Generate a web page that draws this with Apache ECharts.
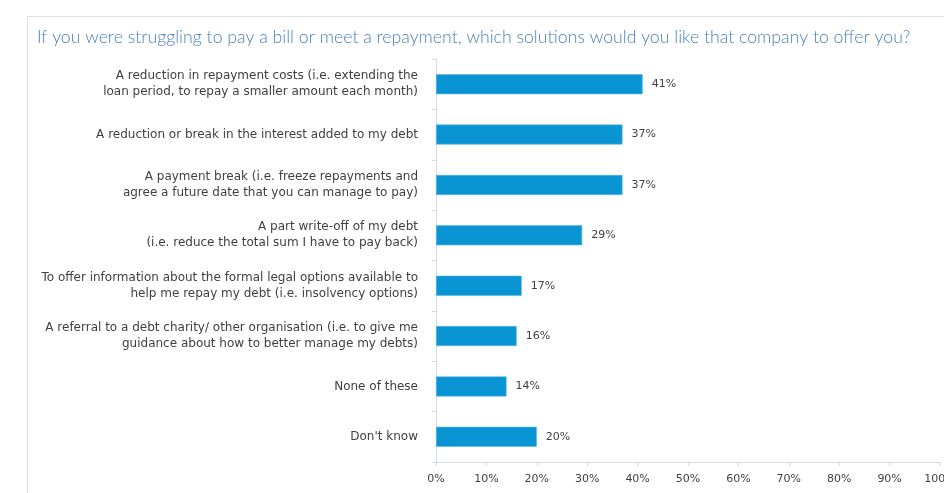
<!DOCTYPE html>
<html>
<head>
<meta charset="utf-8">
<script src="https://cdn.jsdelivr.net/npm/echarts@6/dist/echarts.min.js"></script>
<style>
  html, body { margin: 0; padding: 0; background: #ffffff; }
  #chart { width: 944px; height: 493px; }
</style>
</head>
<body>
<div id="chart"></div>
<script>
// Survey answers, top to bottom
const categories = [
  'A reduction in repayment costs (i.e. extending the\nloan period, to repay a smaller amount each month)',
  'A reduction or break in the interest added to my debt',
  'A payment break (i.e. freeze repayments and\nagree a future date that you can manage to pay)',
  'A part write-off of my debt\n(i.e. reduce the total sum I have to pay back)',
  'To offer information about the formal legal options available to\nhelp me repay my debt (i.e. insolvency options)',
  'A referral to a debt charity/ other organisation (i.e. to give me\nguidance about how to better manage my debts)',
  'None of these',
  "Don't know"
];
// Share of respondents (%)
const shares = [41, 37, 37, 29, 17, 16, 14, 20];
// Value axis ticks (%)
const axisMin = 0;
const axisMax = 100;
const axisStep = 10;

const titleText = 'If you were struggling to pay a bill or meet a repayment, which solutions would you like that company to offer you?';

const labelFont = '"DejaVu Sans", sans-serif';
const axisColor = '#d3dae6';
const textColor = '#3f3f3f';

const chart = echarts.init(document.getElementById('chart'), null, { renderer: 'canvas' });

chart.setOption({
  backgroundColor: '#ffffff',
  animation: false,
  title: {
    text: titleText,
    left: 37,
    top: 28,
    padding: 0,
    textStyle: {
      fontFamily: 'Lato, sans-serif',
      fontWeight: 300,
      fontSize: 17.7,
      color: '#4a7fc0'
    }
  },
  graphic: [
    {
      type: 'rect',
      silent: true,
      z: -1,
      shape: { x: 27.5, y: 16.5, width: 940, height: 500 },
      style: { fill: 'none', stroke: '#dbe2ec', lineWidth: 1 }
    }
  ],
  grid: {
    left: 436,
    right: 4,
    top: 59,
    bottom: 31,
    containLabel: false,
    outerBoundsMode: 'none'
  },
  xAxis: {
    type: 'value',
    min: axisMin,
    max: axisMax,
    interval: axisStep,
    splitLine: { show: false },
    axisLine: { show: true, lineStyle: { color: axisColor, width: 1 } },
    axisTick: { show: true, length: 4, lineStyle: { color: axisColor } },
    axisLabel: {
      formatter: '{value}%',
      color: textColor,
      fontFamily: labelFont,
      fontSize: 11,
      margin: 12,
      hideOverlap: false,
      showMaxLabel: true
    }
  },
  yAxis: {
    type: 'category',
    data: categories,
    inverse: true,
    axisLine: { show: true, lineStyle: { color: axisColor, width: 1 } },
    axisTick: { show: true, length: 4, lineStyle: { color: axisColor } },
    axisLabel: {
      color: textColor,
      fontFamily: labelFont,
      fontSize: 12,
      lineHeight: 16,
      margin: 18,
      padding: [5, 0, 0, 0],
      align: 'right'
    }
  },
  series: [
    {
      type: 'bar',
      data: shares,
      barWidth: 20,
      itemStyle: {
        color: '#0995d3',
        borderColor: '#5cb6e4',
        borderWidth: 0.6
      },
      label: {
        show: true,
        position: 'right',
        distance: 9,
        formatter: '{c}%',
        color: textColor,
        fontFamily: labelFont,
        fontSize: 11
      }
    }
  ]
});
</script>
</body>
</html>
